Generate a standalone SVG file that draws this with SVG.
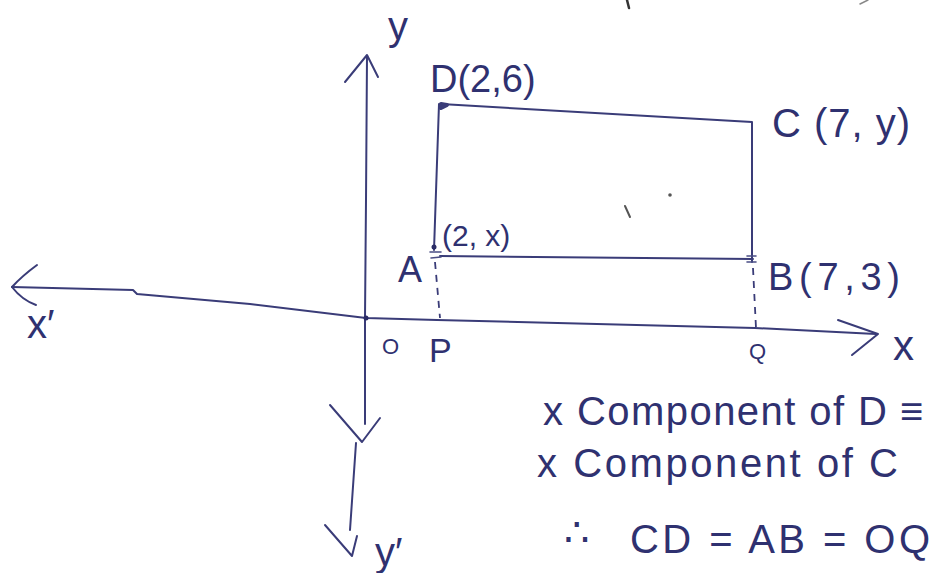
<svg xmlns="http://www.w3.org/2000/svg" width="938" height="573" viewBox="0 0 938 573">
<style>
.ink{fill:none;stroke:#3a3c78;stroke-width:2;stroke-linecap:round;stroke-linejoin:round}
.thin{fill:none;stroke:#4a4d85;stroke-width:1.6;stroke-linecap:round}
.dash{fill:none;stroke:#3a3c78;stroke-width:1.8;stroke-dasharray:7 6}
.t{font-family:"Liberation Sans",Arial,sans-serif;fill:#2f3170}
.dot{fill:#2a2b66}
</style>
<rect width="938" height="573" fill="#ffffff"/>
<g id="axes">
  <path class="ink" d="M367,56 L366,200 L365,318 L365,424"/>
  <path class="ink" d="M345,82 L367,55 L378,77"/>
  <path class="ink" d="M330,405 L362,442 L380,418"/>
  <path class="ink" d="M356,443 L350,530"/>
  <path class="ink" d="M325,525 L352,556 L357,536"/>
  <path class="ink" d="M12,287 L133,290 L137,294 L250,304 L366,318 L437,320 L755,328 L876,334"/>
  <path class="ink" d="M37,265 Q22,276 12,287 Q22,300 36,305"/>
  <path class="ink" d="M838,320 L878,334 L852,355"/>
  <circle class="dot" cx="366" cy="318" r="2.5"/>
</g>
<g id="rectangle">
  <path class="ink" d="M441,104 L752,122 L752,262"/>
  <path class="ink" d="M439,104 L434,250"/>
  <path class="ink" d="M440,256 L753,259"/>
  <path class="ink" d="M441,104 l6,1 l-6,3 z" style="stroke-width:4"/>
  <circle class="dot" cx="434" cy="247" r="2.5"/>
  <path class="thin" d="M430,252 L441,252 M431,258 L441,257"/>
  <path class="thin" d="M747,256 L756,256 M747,262 L756,262"/>
</g>
<g id="dashed">
  <path class="dash" d="M435,262 L440,318"/>
  <path class="dash" d="M753,268 L756,328"/>
</g>
<g id="marks">
  <circle cx="670" cy="195" r="1.8" fill="#555"/>
  <path d="M625,206 L630,217" stroke="#555" stroke-width="2" stroke-linecap="round"/>
  <path d="M627,0 L629,8" stroke="#333" stroke-width="2.5" stroke-linecap="round"/>
  <path d="M860,4 L868,0" stroke="#888" stroke-width="1.5" stroke-linecap="round"/>
</g>
<g id="labels">
  <text class="t" x="388" y="40" font-size="40">y</text>
  <text class="t" x="430" y="92" font-size="38">D(2,6)</text>
  <text class="t" x="772" y="137" font-size="40" textLength="138" lengthAdjust="spacing">C (7, y)</text>
  <text class="t" x="442" y="246" font-size="30">(2, x)</text>
  <text class="t" x="398" y="282" font-size="36">A</text>
  <text class="t" x="768" y="290" font-size="38" textLength="132" lengthAdjust="spacing">B(7,3)</text>
  <text class="t" x="382" y="354" font-size="22">O</text>
  <text class="t" x="429" y="362" font-size="34">P</text>
  <text class="t" x="749" y="359" font-size="22">Q</text>
  <text class="t" x="893" y="360" font-size="42">x</text>
  <text class="t" x="27" y="338" font-size="40">x′</text>
  <text class="t" x="375" y="566" font-size="40">y′</text>
</g>
<g id="notes">
  <text class="t" x="543" y="425" font-size="40" textLength="344" lengthAdjust="spacing">x Component of D</text>
  <text class="t" x="900" y="425" font-size="40">≡</text>
  <text class="t" x="537" y="477" font-size="40" textLength="361" lengthAdjust="spacing">x Component of C</text>
  <text class="t" x="564" y="546" font-size="40">∴</text>
  <text class="t" x="630" y="553" font-size="40" textLength="300" lengthAdjust="spacing">CD = AB = OQ</text>
</g>
</svg>
